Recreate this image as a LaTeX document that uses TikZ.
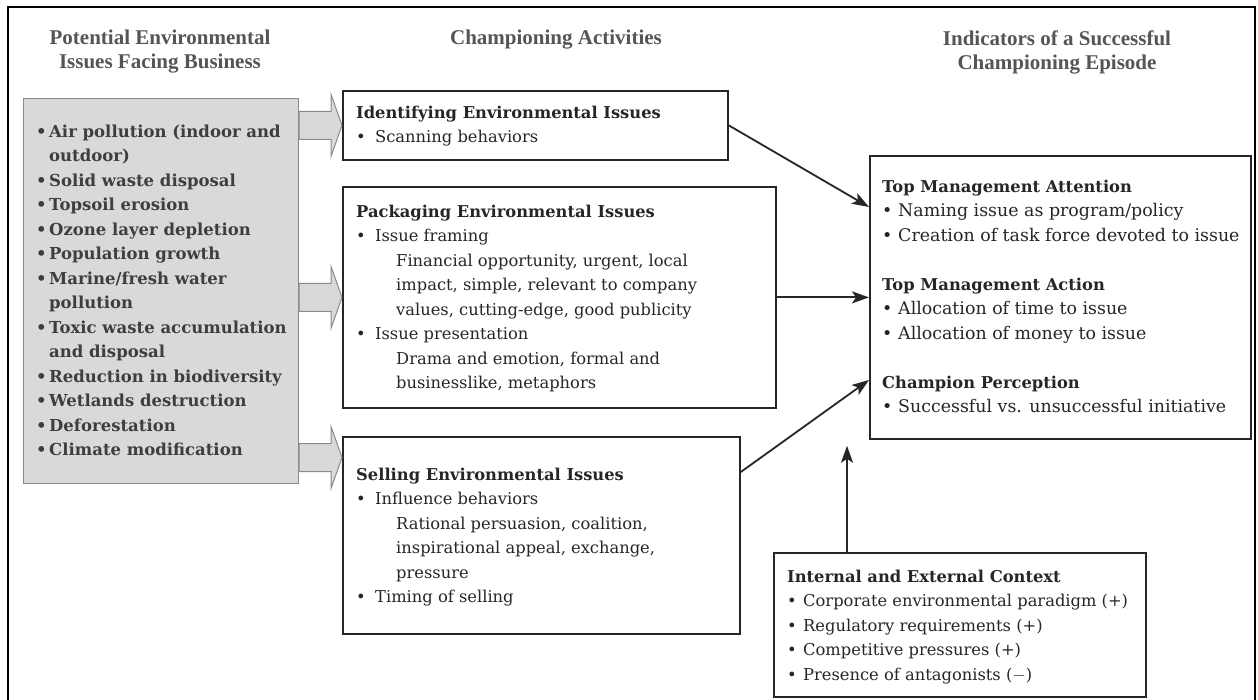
\documentclass[tikz,border=0pt]{standalone}
\usepackage{fontspec}
\setmainfont{DejaVu Serif}
\newfontfamily\headfont{Liberation Serif}
\usetikzlibrary{calc,arrows.meta}

\definecolor{ink}{HTML}{262626}
\definecolor{headgray}{HTML}{555555}
\definecolor{issuefill}{HTML}{D9D9D9}
\definecolor{issueedge}{HTML}{8A8A8A}
\definecolor{issueink}{HTML}{3E3E3E}

% bullet set in a box of given width, and the matching hanging indent
\newcommand{\bul}[1]{\makebox[#1][l]{\textbullet}}
\newcommand{\ind}[1]{\hspace*{#1}}
% bold group heading at the common heading size
\newcommand{\grouphead}[1]{{\fontsize{16.3}{24.5}\selectfont\bfseries #1}}

% wide grey block arrow from a start point (shaft base) to a tip
\newcommand{\blockarrow}[2]{%
  \draw[blockarr] let \p1=#1, \p2=#2 in
    (\x1,\y1+14pt) -- (\x2-11pt,\y1+14pt) -- (\x2-11pt,\y1+31pt) -- (\x2,\y1)
    -- (\x2-11pt,\y1-31pt) -- (\x2-11pt,\y1-14pt) -- (\x1,\y1-14pt) -- cycle;}

\begin{document}
\begin{tikzpicture}[x=1pt,y=-1pt,
  box/.style={draw=ink,line width=1.8pt,anchor=north west,inner sep=0pt,fill=white},
  issuebox/.style={draw=issueedge,line width=1.2pt,fill=issuefill,anchor=north west,inner sep=0pt},
  txt/.style={anchor=north west,inner sep=0pt,align=left,text=ink,font=\fontsize{16.3}{24.5}\selectfont},
  bigtxt/.style={txt,font=\fontsize{17.4}{24.5}\selectfont},
  issuetxt/.style={txt,text=issueink,font=\fontsize{16.5}{24.5}\selectfont\bfseries},
  head/.style={align=center,text=headgray,inner sep=0pt,font=\headfont\bfseries\fontsize{21}{24}\selectfont},
  conn/.style={draw=ink,line width=1.8pt,-{Stealth[length=17pt,width=12pt,inset=4pt]}},
  blockarr/.style={fill=issuefill,draw=issueedge,line width=1pt}]

\useasboundingbox (0,0) rectangle (1258,700);
\fill[white] (0,0) rectangle (1258,700);

% frame
\draw[line width=2.5pt,black] (8,700) -- (8,7) -- (1255,7) -- (1255,700);

% column headings
\node[head] (h1) at (160,52) {Potential Environmental\\Issues Facing Business};
\node[head] (h2) at (556,40) {Championing Activities};
\node[head] (h3) at (1057,52) {Indicators of a Successful\\Championing Episode};

% boxes
\node[issuebox,minimum width=275pt,minimum height=385pt] (issues) at (23,98) {};
\node[box,minimum width=385pt,minimum height=69pt]  (ident) at (342,90) {};
\node[box,minimum width=433pt,minimum height=221pt] (pack)  at (342,186) {};
\node[box,minimum width=397pt,minimum height=197pt] (sell)  at (342,436) {};
\node[box,minimum width=381pt,minimum height=283pt] (tm)    at (869,155) {};
\node[box,minimum width=372pt,minimum height=144pt] (ctx)   at (773,552) {};

% box texts
\node[issuetxt] (issuestxt) at (36,119.85) {\strut\bul{13pt}Air pollution (indoor and\\
\ind{13pt}outdoor)\\
\bul{13pt}Solid waste disposal\\
\bul{13pt}Topsoil erosion\\
\bul{13pt}Ozone layer depletion\\
\bul{13pt}Population growth\\
\bul{13pt}Marine/fresh water\\
\ind{13pt}pollution\\
\bul{13pt}Toxic waste accumulation\\
\ind{13pt}and disposal\\
\bul{13pt}Reduction in biodiversity\\
\bul{13pt}Wetlands destruction\\
\bul{13pt}Deforestation\\
\bul{13pt}Climate modification};

\node[txt] (identtxt) at (356,100.85) {\strut\textbf{Identifying Environmental Issues}\\
\bul{19pt}Scanning behaviors};

\node[txt] (packtxt) at (356,199.85) {\strut\textbf{Packaging Environmental Issues}\\
\bul{19pt}Issue framing\\
\ind{40pt}Financial opportunity, urgent, local\\
\ind{40pt}impact, simple, relevant to company\\
\ind{40pt}values, cutting-edge, good publicity\\
\bul{19pt}Issue presentation\\
\ind{40pt}Drama and emotion, formal and\\
\ind{40pt}businesslike, metaphors};

\node[txt] (selltxt) at (356,462.85) {\strut\textbf{Selling Environmental Issues}\\
\bul{19pt}Influence behaviors\\
\ind{40pt}Rational persuasion, coalition,\\
\ind{40pt}inspirational appeal, exchange,\\
\ind{40pt}pressure\\
\bul{19pt}Timing of selling};

\node[bigtxt] (tmtxt) at (882,174.85) {\strut\grouphead{Top Management Attention}\\
\bul{16pt}Naming issue as program/policy\\
\bul{16pt}Creation of task force devoted to issue\\[24.5pt]
\grouphead{Top Management Action}\\
\bul{16pt}Allocation of time to issue\\
\bul{16pt}Allocation of money to issue\\[24.5pt]
\grouphead{Champion Perception}\\
\bul{16pt}Successful vs. unsuccessful initiative};

\node[txt] (ctxtxt) at (787,564.85) {\strut\textbf{Internal and External Context}\\
\bul{16pt}Corporate environmental paradigm (+)\\
\bul{16pt}Regulatory requirements (+)\\
\bul{16pt}Competitive pressures (+)\\
\bul{16pt}Presence of antagonists ($-$)};

% grey block arrows from the issue list into the activities
\coordinate (sellin) at ($(sell.north west)+(0,21.5)$);
\blockarrow{(issues.east |- ident.west)}{(ident.west)}
\blockarrow{(issues.east |- pack.west)}{(pack.west)}
\blockarrow{(issues.east |- sellin)}{(sellin)}

% connectors into the indicators box
\coordinate (sellout) at ($(sell.north east)+(0,36)$);
\coordinate (ctxout) at ($(ctx.north west)+(74,0)$);
\draw[conn] (ident.east) -- ($(tm.north west)+(0,52)$);
\draw[conn] (pack.east) -- (pack.east -| tm.west);
\draw[conn] (sellout) -- ($(tm.north west)+(0,225)$);
\draw[conn,shorten >=6pt] (ctxout) -- (ctxout |- tm.south);
\end{tikzpicture}
\end{document}
